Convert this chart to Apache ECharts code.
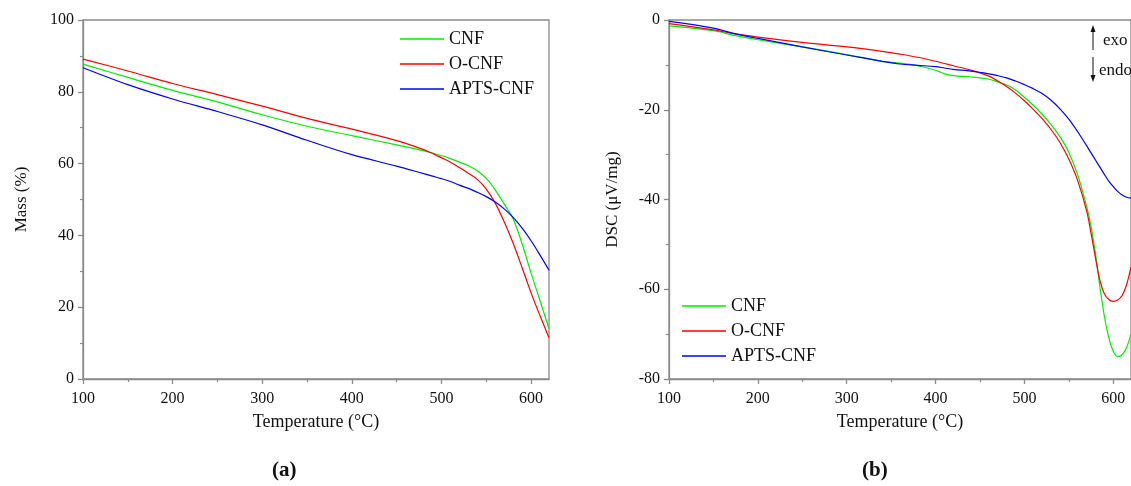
<!DOCTYPE html>
<html>
<head>
<meta charset="utf-8">
<script src="https://cdn.jsdelivr.net/npm/echarts@6/dist/echarts.min.js"></script>
<style>
html,body{margin:0;padding:0;background:#fff;}
#chart{width:1131px;height:486px;}
</style>
</head>
<body>
<div id="chart"></div>
<script>
// ---------- Data ----------
var seriesNames = ['CNF', 'O-CNF', 'APTS-CNF'];
var xTicks = [100, 200, 300, 400, 500, 600];
var xMinorTicks = [150, 250, 350, 450, 550];

// (a) TGA: temperature (°C) vs mass (%)
var tTga = [100, 150, 200, 250, 300, 350, 400, 450, 480, 490, 500, 510, 520, 530, 540, 550, 560, 570, 580, 590, 600, 610, 620];
var massCNF  = [87.7, 84.0, 80.4, 77.2, 73.6, 70.4, 67.8, 65.2, 63.6, 62.9, 62.2, 61.4, 60.4, 59.4, 58.0, 55.9, 52.7, 48.7, 44.6, 37.6, 29.5, 21.8, 14.0];
var massOCNF = [89.1, 85.8, 82.3, 79.2, 76.0, 72.6, 69.6, 66.4, 63.9, 62.8, 61.6, 60.4, 58.9, 57.3, 55.6, 52.9, 49.0, 43.8, 37.8, 31.0, 24.0, 17.6, 11.5];
var massAPTS = [86.7, 82.0, 78.0, 74.5, 70.8, 66.5, 62.5, 59.3, 57.2, 56.5, 55.8, 55.0, 54.0, 53.1, 52.0, 50.8, 49.3, 47.4, 45.0, 42.0, 38.5, 34.5, 30.3];

// (b) DSC: temperature (°C) vs DSC (µV/mg)
var tDsc = [100, 150, 175, 200, 250, 300, 340, 360, 380, 400, 410, 420, 440, 460, 470, 480, 490, 500, 510, 520, 530, 540, 550, 560, 570, 575, 580, 585, 590, 595, 600, 605, 610, 615, 620];
var dscCNF  = [-1.3, -2.4, -3.5, -4.4, -6.0, -7.7, -9.2, -9.6, -10.2, -11.2, -12.0, -12.4, -12.7, -13.2, -13.8, -14.5, -15.6, -17.2, -19.0, -21.0, -23.3, -26.0, -29.5, -34.5, -41.5, -46.0, -52.0, -59.5, -66.0, -70.8, -73.8, -75.0, -74.6, -73.0, -70.0];
var dscOCNF = [-0.8, -2.2, -3.1, -3.8, -5.0, -6.0, -7.0, -7.6, -8.3, -9.2, -9.7, -10.2, -11.2, -12.5, -13.6, -14.8, -16.3, -18.0, -19.9, -22.0, -24.4, -27.3, -31.0, -35.8, -42.5, -47.5, -53.0, -58.0, -61.0, -62.3, -62.7, -62.4, -61.4, -59.0, -55.0];
var dscAPTS = [-0.3, -1.8, -3.1, -4.1, -6.0, -7.8, -9.2, -9.8, -10.1, -10.4, -10.7, -11.0, -11.4, -12.0, -12.4, -12.9, -13.6, -14.4, -15.3, -16.4, -17.9, -19.8, -22.1, -24.9, -28.0, -29.6, -31.2, -32.8, -34.4, -35.9, -37.1, -38.2, -39.0, -39.5, -39.7];

// ---------- Styles ----------
var colors = ['#00ee00', '#ff0000', '#0000ff'];
var axisGray = '#8a8a8a';
var serif = 'Liberation Serif';

function pairs(xs, ys) { return xs.map(function (x, i) { return [x, ys[i]]; }); }

function mainX(gridIndex, name) {
  return {
    type: 'value', gridIndex: gridIndex, min: 100, max: 620, position: 'bottom',
    name: name, nameLocation: 'middle', nameGap: 34,
    nameTextStyle: { fontFamily: serif, fontSize: 18, color: '#111' },
    axisLine: { show: true, onZero: false, lineStyle: { color: axisGray, width: 1.3 } },
    axisTick: { show: true, length: 5, customValues: xTicks, lineStyle: { color: axisGray, width: 1.3 } },
    axisLabel: { customValues: xTicks, margin: 12, fontFamily: serif, fontSize: 16, color: '#111' },
    splitLine: { show: false }
  };
}
// minor ticks: an extra axis placed at the top, shifted down onto the bottom edge
function minorX(gridIndex) {
  return {
    type: 'value', gridIndex: gridIndex, min: 100, max: 620, position: 'top', offset: -359,
    axisLine: { show: false, onZero: false },
    axisTick: { show: true, inside: true, length: 3, customValues: xMinorTicks, lineStyle: { color: axisGray, width: 1.2 } },
    axisLabel: { show: false },
    splitLine: { show: false }
  };
}
function mainY(gridIndex, name, min, max, gap) {
  return {
    type: 'value', gridIndex: gridIndex, min: min, max: max, interval: 20,
    name: name, nameLocation: 'middle', nameGap: gap, nameRotate: 90,
    nameTextStyle: { fontFamily: serif, fontSize: 17, color: '#111' },
    axisLine: { show: true, onZero: false, lineStyle: { color: axisGray, width: 1.3 } },
    axisTick: { show: true, length: 5, lineStyle: { color: axisGray, width: 1.3 } },
    minorTick: { show: true, splitNumber: 2, length: 3, lineStyle: { color: axisGray, width: 1.2 } },
    axisLabel: { margin: 9, fontFamily: serif, fontSize: 16, color: '#111' },
    splitLine: { show: false }
  };
}
function lineSeries(name, xi, yi, data, color) {
  return {
    type: 'line', name: name, xAxisIndex: xi, yAxisIndex: yi, data: data,
    showSymbol: false, symbol: 'none', smooth: 0.35,
    lineStyle: { color: color, width: 1.2 }, itemStyle: { color: color },
    animation: false
  };
}
function legendAt(left, top) {
  return {
    left: left, top: top, orient: 'vertical', data: seriesNames,
    icon: 'rect', itemWidth: 44, itemHeight: 1.3, itemGap: 7,
    textStyle: { fontFamily: serif, fontSize: 18, color: '#111', lineHeight: 18 },
    selectedMode: false
  };
}

var chart = echarts.init(document.getElementById('chart'), null, { renderer: 'canvas' });
chart.setOption({
  backgroundColor: '#ffffff',
  animation: false,
  grid: [
    { left: 83, top: 20, width: 466, height: 359, show: true, borderColor: axisGray, borderWidth: 1.3, backgroundColor: 'transparent' },
    { left: 669, top: 20, width: 470, height: 359, show: true, borderColor: axisGray, borderWidth: 1.3, backgroundColor: 'transparent' }
  ],
  xAxis: [mainX(0, 'Temperature (°C)'), minorX(0), mainX(1, 'Temperature (°C)'), minorX(1)],
  yAxis: [mainY(0, 'Mass (%)', 0, 100, 53), mainY(1, 'DSC (μV/mg)', -80, 0, 48)],
  legend: [legendAt(395, 25), legendAt(677, 292)],
  series: [
    lineSeries('CNF', 0, 0, pairs(tTga, massCNF), colors[0]),
    lineSeries('O-CNF', 0, 0, pairs(tTga, massOCNF), colors[1]),
    lineSeries('APTS-CNF', 0, 0, pairs(tTga, massAPTS), colors[2]),
    lineSeries('CNF', 2, 1, pairs(tDsc, dscCNF), colors[0]),
    lineSeries('O-CNF', 2, 1, pairs(tDsc, dscOCNF), colors[1]),
    lineSeries('APTS-CNF', 2, 1, pairs(tDsc, dscAPTS), colors[2])
  ],
  graphic: [
    { type: 'text', left: 272, top: 460, style: { text: '(a)', font: 'bold 21px "Liberation Serif"', fill: '#111' } },
    { type: 'text', left: 862, top: 460, style: { text: '(b)', font: 'bold 21px "Liberation Serif"', fill: '#111' } },
    // exo / endo annotation
    { type: 'line', shape: { x1: 1093, y1: 50, x2: 1093, y2: 31 }, style: { stroke: '#111', lineWidth: 1 } },
    { type: 'polygon', shape: { points: [[1093, 25], [1090.5, 32], [1095.5, 32]] }, style: { fill: '#111' } },
    { type: 'line', shape: { x1: 1093, y1: 57, x2: 1093, y2: 76 }, style: { stroke: '#111', lineWidth: 1 } },
    { type: 'polygon', shape: { points: [[1093, 82], [1090.5, 75], [1095.5, 75]] }, style: { fill: '#111' } },
    { type: 'text', left: 1103, top: 32, style: { text: 'exo', font: '17px "Liberation Serif"', fill: '#111' } },
    { type: 'text', left: 1099, top: 62, style: { text: 'endo', font: '17px "Liberation Serif"', fill: '#111' } }
  ]
});
</script>
</body>
</html>
